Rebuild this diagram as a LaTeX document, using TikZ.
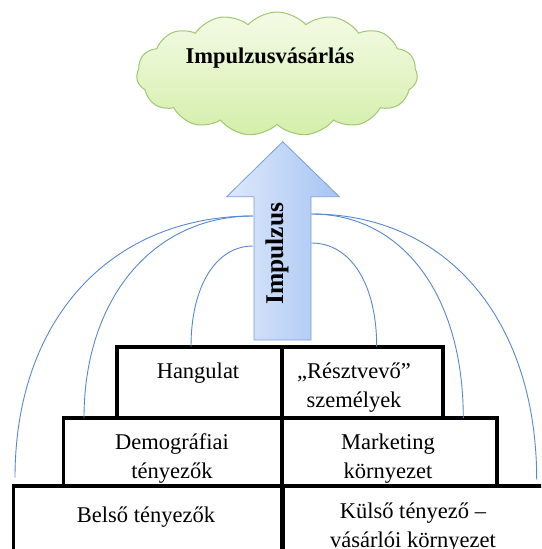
\documentclass[tikz,border=0pt]{standalone}
\usepackage{fontspec}
\setmainfont{Liberation Serif}
\usetikzlibrary{shapes.symbols}
\definecolor{curveblue}{RGB}{88,136,205}
\definecolor{cloudedge}{RGB}{160,200,110}
\definecolor{cloudtop}{RGB}{244,251,230}
\definecolor{cloudbot}{RGB}{212,238,170}
\definecolor{arrowedge}{RGB}{122,158,214}
\definecolor{arrowleft}{RGB}{222,233,251}
\definecolor{arrowright}{RGB}{166,196,242}
\tikzset{
  cell/.style={draw=black, line width=3.6pt, rectangle, inner sep=0pt, outer sep=0pt, anchor=north west},
  celltext/.style={anchor=base, align=center, inner sep=0pt, font=\fontsize{22.5}{28.5}\selectfont},
  link/.style={draw=curveblue, line width=0.9pt},
}
\begin{document}
\begin{tikzpicture}[x=1pt,y=-1pt]
\useasboundingbox (0,0) rectangle (541,549);
\clip (0,0) rectangle (541,549);
% cloud
\node[cloud, cloud puffs=15, cloud puff arc=95, cloud ignores aspect, minimum width=281, minimum height=124,
      draw=cloudedge, line width=1pt, top color=cloudtop, bottom color=cloudbot] (cloud) at (277,74) {};
\node[anchor=base, inner sep=0pt, font=\fontsize{22.5}{27}\selectfont\bfseries] (cloudtext) at (270,63) {Impulzusvásárlás};
% arrow
\draw[draw=arrowedge, line width=0.8pt, left color=arrowleft, right color=arrowright]
  (254,340) -- (254,196.7) -- (226.7,196.7) -- (282.7,141.7) -- (339.3,196.7) -- (311,196.7) -- (311,340) -- cycle;
\node[rotate=90, inner sep=0pt, font=\fontsize{25.5}{30}\selectfont\bfseries] (imp) at (277,253.7) {Impulzus};
\coordinate (la) at (253,216);
\coordinate (lb) at (253,246);
\coordinate (ra) at (311.5,214);
\coordinate (rb) at (311.5,243);
% boxes
\node[cell, minimum width=270, minimum height=80] (bl) at (13.3,485.7) {};
\node[cell, minimum width=270, minimum height=80] (br) at (281.7,485.7) {};
\node[cell, minimum width=218.4, minimum height=67.7] (ml) at (63.3,418) {};
\node[cell, minimum width=215, minimum height=67.7] (mr) at (281.7,418) {};
\node[cell, minimum width=165, minimum height=71.3] (tl) at (116.7,346.7) {};
\node[cell, minimum width=161.3, minimum height=71.3] (tr) at (281.7,346.7) {};
% texts (base = last line)
\node[celltext] (t1) at (198,378.6) {Hangulat};
\node[celltext] (t2) at (354,407.1) {„Résztvevő”\\személyek};
\node[celltext] (t3) at (172,478.2) {Demográfiai\\tényezők};
\node[celltext] (t4) at (388,478.2) {Marketing\\környezet};
\node[celltext] (t5) at (146,522.8) {Belső tényezők};
\node[celltext] (t6) at (413,547) {Külső tényező –\\vásárlói környezet};
% curves
\draw[link] (la) .. controls (110,216) and (15,320) .. ([xshift=1.7pt,yshift=8pt]bl.north west);
\draw[link] (la) .. controls (152,216) and (84,300) .. ([xshift=20.7pt]ml.north west);
\draw[link] (lb) .. controls (216,246) and (191,286) .. ([xshift=74.3pt]tl.north west);
\draw[link] (ra) .. controls (447,214) and (536.7,320) .. ([xshift=255pt,yshift=6pt]br.north west);
\draw[link] (ra) .. controls (403,214) and (463.3,296) .. ([xshift=181.6pt]mr.north west);
\draw[link] (rb) .. controls (350,243) and (376.7,283) .. ([xshift=95pt]tr.north west);
\end{tikzpicture}
\end{document}
